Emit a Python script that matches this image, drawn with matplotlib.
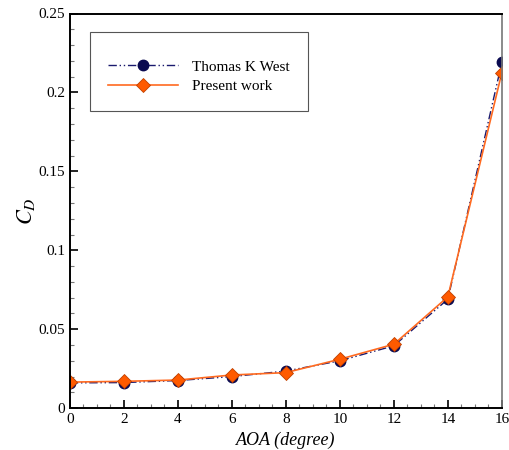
import numpy as np
import matplotlib.pyplot as plt
from matplotlib.ticker import MultipleLocator

plt.rcParams['font.family'] = ['Liberation Serif', 'DejaVu Serif']
plt.rcParams['mathtext.fontset'] = 'stix'

# angle of attack and drag coefficient
aoa = [0, 2, 4, 6, 8, 10, 12, 14, 16]
cd_west = [0.0160, 0.0162, 0.0175, 0.0200, 0.0235, 0.0300, 0.0395, 0.0690, 0.2190]
cd_present = [0.0165, 0.0170, 0.0178, 0.0210, 0.0225, 0.0310, 0.0405, 0.0705, 0.2125]

fig = plt.figure(figsize=(5.1, 4.5), dpi=100)
ax = fig.add_axes([0.137, 0.093, 0.847, 0.877])

ax.plot(aoa, cd_west, color='#1a1a6e', linestyle=(0, (6, 2, 1, 2, 1, 2)), lw=1.0,
        marker='o', markersize=7.5, markerfacecolor='#0a0a50', markeredgecolor='#0a0a50',
        label='Thomas K West')
ax.plot(aoa, cd_present, color='#ff6a20', lw=1.2,
        marker='D', markersize=7.5, markerfacecolor='#ff5a00', markeredgecolor='#c04000',
        markeredgewidth=0.6, label='Present work')

ax.set_xlim(0, 16)
ax.set_ylim(0, 0.25)
ax.xaxis.set_minor_locator(MultipleLocator(0.5))
ax.yaxis.set_minor_locator(MultipleLocator(0.01))
ax.set_xticks(aoa)
ax.set_xticklabels([str(v) for v in aoa])
ax.set_yticks([0, 0.05, 0.1, 0.15, 0.2, 0.25])
ax.set_yticklabels(['0', '0.05', '0.1', '0.15', '0.2', '0.25'])
ax.tick_params(which='major', direction='in', length=6, width=1.2, labelsize=11,
               top=False, right=False)
ax.tick_params(which='minor', direction='in', length=3, width=0.8,
               top=False, right=False, color='#777777')

for side in ['left', 'bottom', 'top']:
    ax.spines[side].set_linewidth(1.4)
ax.spines['right'].set_linewidth(1.2)
ax.spines['right'].set_color('#777777')

ax.set_xlabel('AOA (degree)', fontsize=13, fontstyle='italic')
ax.set_ylabel('$C_D$', fontsize=16, labelpad=1)

leg = ax.legend(loc='upper left', bbox_to_anchor=(0.046, 0.952), fontsize=11,
                handlelength=4.6, fancybox=False, framealpha=1,
                borderpad=1.2, labelspacing=0.35, handletextpad=0.9,
                borderaxespad=0, title=' ', title_fontsize=3)
leg.get_frame().set_edgecolor('#555555')
leg.get_frame().set_linewidth(0.8)

fig.savefig('out.png', dpi=100)
